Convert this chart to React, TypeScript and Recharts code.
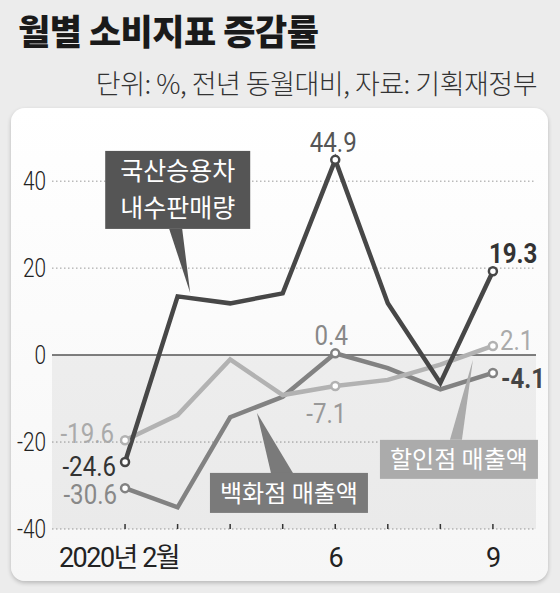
import {
  CartesianGrid,
  Line,
  LineChart,
  ReferenceArea,
  ReferenceDot,
  ReferenceLine,
  XAxis,
  YAxis,
} from "recharts"

const months = [2, 3, 4, 5, 6, 7, 8, 9]
const carSales = [-24.6, 13.5, 11.9, 14.2, 44.9, 11.9, -6.4, 19.3]
const deptSales = [-30.6, -35.0, -14.3, -9.6, 0.4, -3.0, -7.9, -4.1]
const discountSales = [-19.6, -13.8, -1.0, -9.2, -7.1, -5.7, -2.2, 2.1]

const xTicks = [2, 6, 9]
const xTickLabels = ["2020년 2월", "6", "9"]
const yTicks = [-40, -20, 0, 20, 40]
const gridValues = [-40, -20, 20, 40]
const labeledIndex = [0, 4, 7]

const calloutText = [["국산승용차", "내수판매량"], ["백화점 매출액"], ["할인점 매출액"]]
const calloutMonth = [3.24, 4.51, 8.62]
const calloutValue = [14.3, -13.3, -1.1]

const data = months.map((m, i) => ({
  month: m,
  car: carSales[i],
  dept: deptSales[i],
  discount: discountSales[i],
}))

const NUM_FONT = "Roboto, 'Noto Sans CJK KR', sans-serif"
const KR_FONT = "'Noto Sans CJK KR', sans-serif"

type LabelStyle = { dx: number; dy: number; anchor: "start" | "middle" | "end"; color: string; bold?: boolean }

const labelStyles: Record<string, LabelStyle[]> = {
  car: [
    { dx: -9, dy: 14, anchor: "end", color: "#333" },
    { dx: -2, dy: -8, anchor: "middle", color: "#555" },
    { dx: -4, dy: -8, anchor: "start", color: "#333", bold: true },
  ],
  dept: [
    { dx: -8, dy: 16, anchor: "end", color: "#888" },
    { dx: -4, dy: -8, anchor: "middle", color: "#888" },
    { dx: 8, dy: 15, anchor: "start", color: "#444", bold: true },
  ],
  discount: [
    { dx: -11, dy: 3, anchor: "end", color: "#aaa" },
    { dx: -9, dy: 37, anchor: "middle", color: "#999" },
    { dx: 7, dy: 4, anchor: "start", color: "#aaa" },
  ],
}

function NarrowText({ x, y, anchor, color, size = 28, sx = 0.86, weight = 400, children }: any) {
  return (
    <text
      transform={`translate(${x},${y}) scale(${sx},1)`}
      textAnchor={anchor}
      fill={color}
      fontSize={size}
      fontWeight={weight}
      fontFamily={NUM_FONT}
    >
      {children}
    </text>
  )
}

function makeDot(key: string, color: string) {
  return (props: any) => {
    const { cx, cy, index, payload } = props
    const k = labeledIndex.indexOf(index)
    if (k < 0) return <g key={`${key}-${index}`} />
    const s = labelStyles[key][k]
    return (
      <g key={`${key}-${index}`}>
        <circle cx={cx} cy={cy} r={4} fill="#fff" stroke={color} strokeWidth={2.5} />
        <NarrowText x={cx + s.dx} y={cy + s.dy} anchor={s.anchor} color={s.color} weight={s.bold ? 700 : 400}>
          {String(payload[key])}
        </NarrowText>
      </g>
    )
  }
}

// box: [x0, y0, x1, y1] relative to tip, base: [xa, xb, y] where the wedge meets the box
function Callout({ cx, cy, lines, fill, box, base, size, lineGap }: any) {
  const [x0, y0, x1, y1] = box
  const [xa, xb, yb] = base
  const mx = cx + (x0 + x1) / 2
  const my = cy + (y0 + y1) / 2
  return (
    <g>
      <polygon points={`${cx + xa},${cy + yb} ${cx + xb},${cy + yb} ${cx},${cy}`} fill={fill} />
      <rect x={cx + x0} y={cy + y0} width={x1 - x0} height={y1 - y0} fill={fill} />
      {lines.map((t: string, i: number) => (
        <text
          key={t}
          x={mx}
          y={my + (i - (lines.length - 1) / 2) * lineGap}
          dy="0.36em"
          textAnchor="middle"
          fill="#fff"
          fontSize={size}
          fontFamily={KR_FONT}
        >
          {t}
        </text>
      ))}
    </g>
  )
}

function XTick({ x, y, payload }: any) {
  const i = xTicks.indexOf(payload.value)
  return (
    <text
      x={x + (i === 0 ? -6 : 0)}
      y={y + 30}
      textAnchor="middle"
      fill="#222"
      fontSize={27}
      fontFamily={NUM_FONT}
      letterSpacing={-1.5}
    >
      {xTickLabels[i]}
    </text>
  )
}

function YTick({ x, y, payload }: any) {
  return (
    <NarrowText x={x + 2} y={y + 9} anchor="end" color="#222" size={26} sx={0.8} weight={300}>
      {String(payload.value)}
    </NarrowText>
  )
}

const tickMark = (p: any) => <line x1={p.cx} x2={p.cx} y1={p.cy - 5} y2={p.cy} stroke="#333" strokeWidth={1.5} />

export default function App() {
  return (
    <div style={{ position: "fixed", left: 0, top: 0, width: 560, height: 593, background: "#ececec", overflow: "hidden" }}>
      <div
        style={{
          position: "absolute",
          left: 18,
          top: 10,
          fontFamily: KR_FONT,
          fontWeight: 900,
          fontSize: 35,
          lineHeight: "40px",
          color: "#1a1a1a",
          letterSpacing: -0.5,
          whiteSpace: "nowrap",
        }}
      >
        월별 소비지표 증감률
      </div>
      <div
        style={{
          position: "absolute",
          right: 23,
          top: 66,
          fontFamily: KR_FONT,
          fontWeight: 300,
          fontSize: 27,
          lineHeight: "34px",
          color: "#333",
          letterSpacing: -0.5,
          whiteSpace: "nowrap",
        }}
      >
        단위: %, 전년 동월대비, 자료: 기획재정부
      </div>
      <div
        style={{
          position: "absolute",
          left: 11,
          top: 108,
          width: 537,
          height: 473,
          borderRadius: 14,
          background: "linear-gradient(#ffffff, #f6f6f6)",
          boxShadow: "0 2px 4px rgba(0,0,0,0.22)",
        }}
      />
      <div style={{ position: "absolute", left: 0, top: 0 }}>
        <LineChart width={560} height={593} data={data} margin={{ top: 129, right: 24, bottom: 24, left: 12 }}>
          <ReferenceArea x1={0.61} x2={9.82} y1={-40} y2={0} fill="#000" fillOpacity={0.05} stroke="none" />
          <CartesianGrid vertical={false} horizontalValues={gridValues} stroke="#999" strokeDasharray="1.5 2.5" />
          <XAxis
            dataKey="month"
            type="number"
            domain={[0.61, 9.82]}
            ticks={xTicks}
            interval={0}
            axisLine={false}
            tickLine={false}
            height={40}
            tick={<XTick />}
          />
          <YAxis
            type="number"
            domain={[-40, 52]}
            ticks={yTicks}
            interval={0}
            axisLine={false}
            tickLine={false}
            width={40}
            tick={<YTick />}
          />
          <ReferenceLine y={0} stroke="#555" strokeWidth={1.5} />
          {months.map((m) => (
            <ReferenceDot key={m} x={m} y={-40} r={0} ifOverflow="visible" shape={tickMark} />
          ))}
          <Line
            dataKey="dept"
            stroke="#828282"
            strokeWidth={4.5}
            strokeLinejoin="miter"
            dot={makeDot("dept", "#828282")}
            activeDot={false}
            isAnimationActive={false}
          />
          <Line
            dataKey="discount"
            stroke="#b2b2b2"
            strokeWidth={4.5}
            strokeLinejoin="miter"
            dot={makeDot("discount", "#b2b2b2")}
            activeDot={false}
            isAnimationActive={false}
          />
          <Line
            dataKey="car"
            stroke="#474747"
            strokeWidth={4.5}
            strokeLinejoin="miter"
            dot={makeDot("car", "#474747")}
            activeDot={false}
            isAnimationActive={false}
          />
          <ReferenceDot
            x={calloutMonth[0]}
            y={calloutValue[0]}
            r={0}
            ifOverflow="visible"
            shape={(p: any) => (
              <Callout {...p} lines={calloutText[0]} fill="#555" box={[-85, -142, 60, -64]} base={[-21, -8, -64]} size={25} lineGap={37} />
            )}
          />
          <ReferenceDot
            x={calloutMonth[1]}
            y={calloutValue[1]}
            r={0}
            ifOverflow="visible"
            shape={(p: any) => (
              <Callout {...p} lines={calloutText[1]} fill="#7a7a7a" box={[-47, 60, 111, 100]} base={[14, 36, 60]} size={24} lineGap={0} />
            )}
          />
          <ReferenceDot
            x={calloutMonth[2]}
            y={calloutValue[2]}
            r={0}
            ifOverflow="visible"
            shape={(p: any) => (
              <Callout {...p} lines={calloutText[2]} fill="#ababab" box={[-93, 80, 65, 119]} base={[-23, -11, 80]} size={24} lineGap={0} />
            )}
          />
        </LineChart>
      </div>
    </div>
  )
}
